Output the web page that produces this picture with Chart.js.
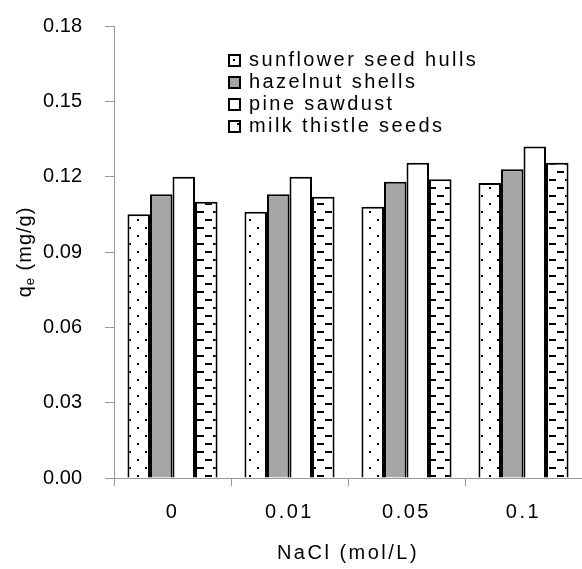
<!DOCTYPE html>
<html>
<head>
<meta charset="utf-8">
<script src="https://cdn.jsdelivr.net/npm/chart.js@4.4.0/dist/chart.umd.min.js"></script>
<style>
  html, body { margin: 0; padding: 0; background: #fff; }
</style>
</head>
<body>
<canvas id="myChart" width="582" height="569"></canvas>
<script>
// data
const categories = ['0', '0.01', '0.05', '0.1'];
const seriesNames = ['sunflower seed hulls', 'hazelnut shells', 'pine sawdust', 'milk thistle seeds'];
const sunflower = [0.105, 0.106, 0.108, 0.1175];
const hazelnut = [0.113, 0.113, 0.118, 0.123];
const pine = [0.120, 0.120, 0.1255, 0.132];
const milkThistle = [0.110, 0.112, 0.119, 0.1255];
const yTicks = [0, 0.03, 0.06, 0.09, 0.12, 0.15, 0.18];

const FONT = 'Liberation Sans';

// fill patterns like the old excel ones
function makePattern(kind) {
    const c = document.createElement('canvas');
    c.width = 16; c.height = 16;
    const g = c.getContext('2d');
    g.fillStyle = '#fff';
    g.fillRect(0, 0, 16, 16);
    g.fillStyle = '#000';
    if (kind === 'dots') {
        g.fillRect(1, 3, 2, 2);
        g.fillRect(9, 11, 2, 2);
    } else if (kind === 'dashes') {
        g.fillRect(5, 3, 7, 2);
        g.fillRect(13, 11, 3, 2);
        g.fillRect(0, 11, 4, 2);
    }
    return g.createPattern(c, 'repeat');
}

const fills = [makePattern('dots'), '#a6a6a6', '#ffffff', makePattern('dashes')];
const seriesData = [sunflower, hazelnut, pine, milkThistle];

// legend drawn inside the plot area, top right
const legendInside = {
    id: 'legendInside',
    beforeDraw(chart) {
        // letter spacing for x labels / title, none for y labels
        chart.ctx.letterSpacing = '2.5px';
        const ys = chart.scales.y;
        if (!ys._noSpacing) {
            const orig = ys.drawLabels;
            ys.drawLabels = function (a) {
                const c = this.ctx;
                c.save();
                c.letterSpacing = '0px';
                orig.call(this, a);
                c.restore();
            };
            ys._noSpacing = true;
        }
    },
    afterDraw(chart) {
        const ctx = chart.ctx;
        ctx.save();
        ctx.letterSpacing = '2.4px';
        ctx.font = '20px "' + FONT + '"';
        ctx.textBaseline = 'middle';
        chart.data.datasets.forEach(function (ds, i) {
            const y = 60 + i * 22;
            ctx.fillStyle = ds.backgroundColor;
            ctx.fillRect(228, y - 6, 13, 13);
            ctx.lineWidth = 2;
            ctx.strokeStyle = '#000';
            ctx.strokeRect(229, y - 5, 11, 11);
            ctx.fillStyle = '#000';
            ctx.fillText(ds.label, 249, y);
        });

        // y title with subscript e
        ctx.letterSpacing = '1px';
        ctx.translate(24, (chart.chartArea.top + chart.chartArea.bottom) / 2);
        ctx.rotate(-Math.PI / 2);
        const big = '20px "' + FONT + '"', small = '13px "' + FONT + '"';
        ctx.font = big; const wq = ctx.measureText('q').width;
        ctx.font = small; const we = ctx.measureText('e').width;
        ctx.font = big; const wr = ctx.measureText(' (mg/g)').width;
        let x = -(wq + we + wr) / 2;
        ctx.textAlign = 'left';
        ctx.textBaseline = 'alphabetic';
        ctx.font = big; ctx.fillText('q', x, 7); x += wq;
        ctx.font = small; ctx.fillText('e', x, 10); x += we;
        ctx.font = big; ctx.fillText(' (mg/g)', x, 7);
        ctx.restore();
    }
};

const ctx = document.getElementById('myChart');

new Chart(ctx, {
    type: 'bar',
    data: {
        labels: categories,
        datasets: seriesNames.map(function (name, i) {
            return {
                label: name,
                data: seriesData[i],
                backgroundColor: fills[i],
                borderColor: '#000',
                borderWidth: 2,
                barPercentage: 1.0,
                categoryPercentage: 0.77
            };
        })
    },
    plugins: [legendInside],
    options: {
        responsive: false,
        animation: false,
        devicePixelRatio: 1,
        layout: { padding: { top: 26, right: 0, bottom: 0, left: 0 } },
        plugins: {
            legend: { display: false },
            tooltip: { enabled: false }
        },
        scales: {
            x: {
                grid: { drawOnChartArea: false, color: '#999', tickLength: 8 },
                border: { color: '#999', width: 1 },
                ticks: { font: { family: FONT, size: 20 }, color: '#000', padding: 14 },
                title: {
                    display: true, text: 'NaCl (mol/L)', color: '#000',
                    font: { family: FONT, size: 20 }, padding: { top: 0, bottom: 4 }
                },
                afterFit: function (s) { s.height = 91; }
            },
            y: {
                min: 0,
                max: 0.18,
                afterBuildTicks: function (s) { s.ticks = yTicks.map(v => ({ value: v })); },
                grid: { drawOnChartArea: false, color: '#999', tickLength: 9 },
                border: { color: '#999', width: 1 },
                ticks: {
                    font: { family: FONT, size: 20 }, color: '#000', padding: 23,
                    callback: v => v.toFixed(2)
                },
                afterFit: function (s) {
                    s.width = 114;
                    s.paddingTop = 0;
                    s.paddingBottom = 0;
                }
            }
        }
    }
});
</script>
</body>
</html>
